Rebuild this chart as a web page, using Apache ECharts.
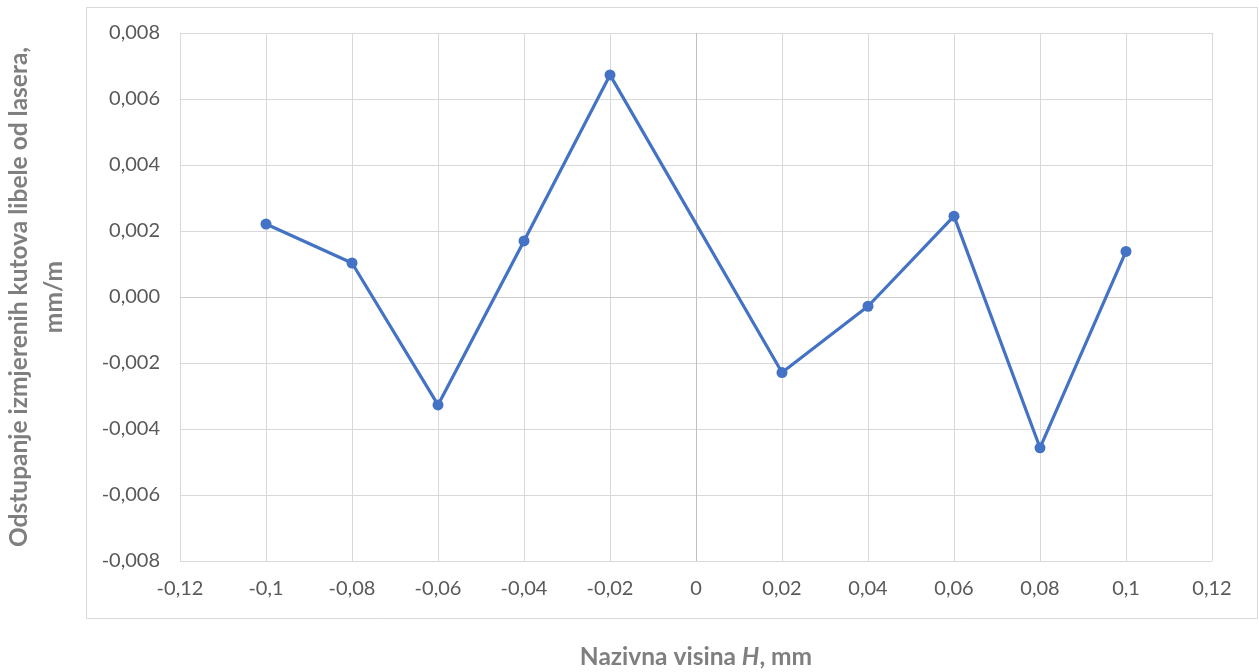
<!DOCTYPE html>
<html>
<head>
<meta charset="utf-8">
<script src="https://cdn.jsdelivr.net/npm/echarts@6/dist/echarts.min.js"></script>
<style>
html,body{margin:0;padding:0;background:#fff;}
#chart{width:1259px;height:672px;}
</style>
</head>
<body>
<div id="chart"></div>
<script>
const xValues = [-0.1, -0.08, -0.06, -0.04, -0.02, 0.02, 0.04, 0.06, 0.08, 0.1];
const yValues = [0.00221, 0.00103, -0.00327, 0.00170, 0.00673, -0.00229, -0.00028, 0.00245, -0.00457, 0.00138];
const xTitle = 'Nazivna visina ';
const xTitleItalic = 'H';
const xTitleEnd = ', mm';
const yTitle = 'Odstupanje izmjerenih kutova libele od lasera,\nmm/m';

const points = xValues.map((x, i) => [x, yValues[i]]);
const fontFam = 'Lato, "Open Sans", sans-serif';
const labelColor = '#595959';
const titleColor = '#7f7f7f';

const chart = echarts.init(document.getElementById('chart'));
chart.setOption({
  animation: false,
  backgroundColor: '#fff',
  graphic: [{
    type: 'rect',
    shape: {x: 86.5, y: 7.5, width: 1171, height: 611},
    style: {fill: 'none', stroke: '#d9d9d9', lineWidth: 1},
    z: -10
  }],
  grid: {left: 180, right: 47, top: 33, bottom: 111, containLabel: false, outerBoundsMode: 'none'},
  xAxis: {
    type: 'value',
    min: -0.12, max: 0.12, interval: 0.02,
    axisLine: {show: false},
    axisTick: {show: false},
    splitLine: {show: true, lineStyle: {color: '#d9d9d9', width: 1}},
    axisLabel: {
      color: labelColor, fontFamily: fontFam, fontSize: 20, margin: 18,
      formatter: v => String(Math.round(v * 100) / 100).replace('.', ',')
    },
    name: '{n|' + xTitle + '}{i|' + xTitleItalic + '}{n|' + xTitleEnd + '}',
    nameLocation: 'middle',
    nameGap: 84,
    nameTextStyle: {
      rich: {
        n: {color: titleColor, fontFamily: fontFam, fontSize: 24.5, fontWeight: 'bold'},
        i: {color: titleColor, fontFamily: fontFam, fontSize: 24.5, fontWeight: 'bold', fontStyle: 'italic'}
      }
    }
  },
  yAxis: {
    type: 'value',
    min: -0.008, max: 0.008, interval: 0.002,
    axisLine: {show: false},
    axisTick: {show: false},
    splitLine: {show: true, lineStyle: {color: '#d9d9d9', width: 1}},
    axisLabel: {
      color: labelColor, fontFamily: fontFam, fontSize: 20, margin: 20,
      formatter: v => (Math.round(v * 1000) / 1000).toFixed(3).replace('.', ',').replace('-0,000', '0,000')
    },
    name: yTitle,
    nameLocation: 'middle',
    nameGap: 108,
    nameTextStyle: {
      color: titleColor, fontFamily: fontFam, fontSize: 24.5, fontWeight: 'bold',
      align: 'center', lineHeight: 35
    }
  },
  series: [{
    type: 'line',
    data: points,
    symbol: 'circle',
    symbolSize: 11,
    lineStyle: {color: '#4472c4', width: 3.2},
    itemStyle: {color: '#4472c4'},
    markLine: {
      silent: true,
      symbol: 'none',
      label: {show: false},
      lineStyle: {color: '#bfbfbf', type: 'solid', width: 1},
      data: [{xAxis: 0}, {yAxis: 0, lineStyle: {color: '#cccccc', type: 'solid', width: 1}}],
      z: 1
    },
    z: 3
  }]
});
</script>
</body>
</html>
